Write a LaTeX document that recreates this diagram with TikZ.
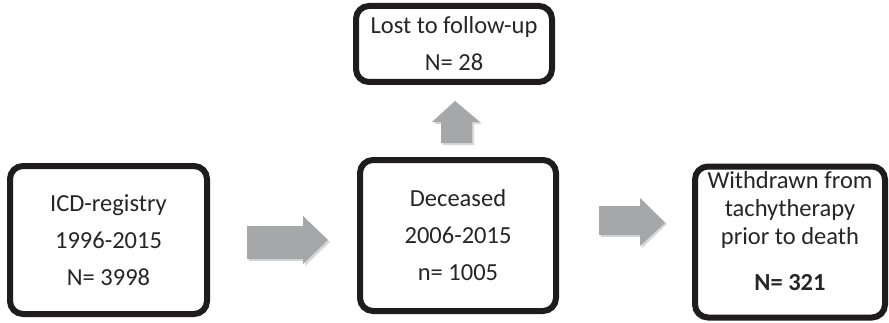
\documentclass[tikz,border=0pt]{standalone}
\usepackage{fontspec}
\setmainfont{Carlito}
\definecolor{arrowgray}{HTML}{A6A7A9}
\definecolor{shadowgray}{HTML}{D8D8D8}
\definecolor{boxline}{HTML}{1E1C1D}
\begin{document}
\begin{tikzpicture}[x=1pt,y=1pt,
  box/.style={draw=boxline, line width=6pt, rounded corners=13pt, fill=white,
    align=center, inner sep=0pt, font=\fontsize{24.5}{37}\selectfont, text=black!85},
  boxtext/.style={align=center, inner sep=0pt, font=\fontsize{24.5}{28}\selectfont, text=black!85},
  blockarrow/.style={fill=arrowgray, draw=none},
  arrowshadow/.style={fill=shadowgray, draw=none}]
\useasboundingbox (0,0) rectangle (889,322);
% boxes
\node[box, minimum width=197, minimum height=148] (icd) at (108.5,82)
  {ICD-registry\\1996-2015\\N= 3998};
\node[box, minimum width=196, minimum height=76] (lost) at (454,278)
  {Lost to follow-up\\N= 28};
\node[box, minimum width=196, minimum height=151] (dec) at (458,86.5)
  {Deceased\\2006-2015\\n= 1005};
\node[box, minimum width=190, minimum height=151] (wd) at (790,80) {};
\node[boxtext] (wdtext) at ([yshift=11pt]wd.center)
  {Withdrawn from\\tachytherapy\\prior to death\\[18pt]\textbf{N= 321}};
% arrow icd -> dec
\fill[arrowshadow] (249,61) -- (305,61) -- (305,56) -- (330,80) -- (305,104) -- (305,94) -- (249,94) -- cycle;
\fill[blockarrow] (247,63) -- (303,63) -- (303,58) -- (328,82) -- (303,106) -- (303,96) -- (247,96) -- cycle;
% arrow dec -> wd
\fill[arrowshadow] (601,85) -- (642,85) -- (642,74) -- (667,98) -- (642,122) -- (642,114) -- (601,114) -- cycle;
\fill[blockarrow] (599,87) -- (640,87) -- (640,76) -- (665,99) -- (640,124) -- (640,116) -- (599,116) -- cycle;
% arrow dec -> lost
\fill[arrowshadow] (443,177) -- (474,177) -- (474,198) -- (482,198) -- (457,219) -- (434,198) -- (443,198) -- cycle;
\fill[blockarrow] (441,179) -- (472,179) -- (472,200) -- (480,200) -- (455,221) -- (432,200) -- (441,200) -- cycle;
\end{tikzpicture}
\end{document}
